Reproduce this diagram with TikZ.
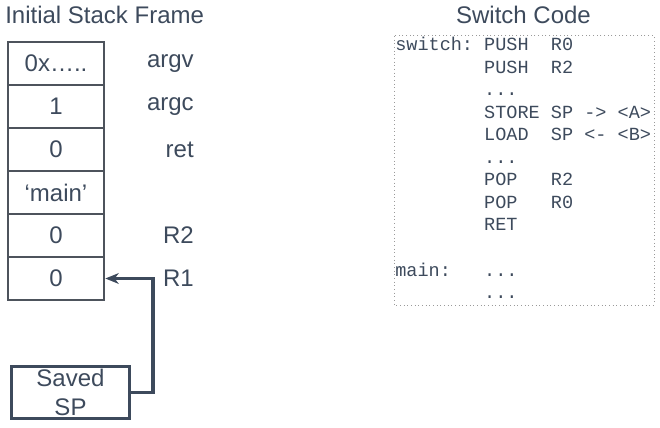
\documentclass[tikz,border=0pt]{standalone}
\usepackage{fontspec}
\setmainfont{Liberation Sans}
\setmonofont{Liberation Mono}
\usetikzlibrary{positioning,arrows.meta}

\definecolor{slate}{HTML}{3D4A5C}
\definecolor{cellline}{HTML}{4D535C}
\definecolor{dotgray}{HTML}{9A9A9A}

\tikzset{
  cell/.style={draw=cellline, line width=0.8pt, minimum width=72pt,
    minimum height=32.25pt, inner sep=0pt, outer sep=0pt, text=slate,
    font=\fontsize{18}{21}\selectfont},
  lbl/.style={anchor=east, inner sep=0pt, text=slate,
    font=\fontsize{18}{21}\selectfont},
  ttl/.style={inner sep=0pt, text=slate, font=\fontsize{18}{21}\selectfont},
  spbox/.style={draw=slate, line width=2.4pt, minimum width=88.5pt,
    minimum height=39pt, inner sep=0pt, align=center, text=slate,
    font=\fontsize{18}{21.5}\selectfont},
  ptr/.style={draw=slate, line width=2.4pt, shorten >=1pt,
    -{Stealth[length=10pt,width=8pt,inset=3pt]}},
  codetxt/.style={anchor=north west, inner sep=0pt, align=left, text=slate,
    font=\ttfamily\fontsize{13.9}{16.9}\selectfont},
  codeframe/.style={draw=dotgray, dotted, line width=0.75pt}
}

\begin{document}
\begin{tikzpicture}[x=0.75pt, y=-0.75pt]
  \useasboundingbox (0,0) rectangle (660,428);

  \node [ttl, anchor=west] (ttlstack) at (5,15) {Initial Stack Frame};
  \node [ttl] (ttlcode) at (523.5,15) {Switch Code};

  % stack cells, top to bottom
  \node [cell, anchor=north west] (argv) at (8,42) {0x…..};
  \node [cell, below=0pt of argv] (argc) {1};
  \node [cell, below=0pt of argc] (ret) {0};
  \node [cell, below=0pt of ret] (mn) {‘main’};
  \node [cell, below=0pt of mn] (r2) {0};
  \node [cell, below=0pt of r2] (r1) {0};

  \node [lbl] (largv) at ([xshift=67.5pt]argv.east) {argv};
  \node [lbl] (largc) at ([xshift=67.5pt]argc.east) {argc};
  \node [lbl] (lret) at ([xshift=67.5pt]ret.east) {ret};
  \node [lbl] (lr2) at ([xshift=67.5pt]r2.east) {R2};
  \node [lbl] (lr1) at ([xshift=67.5pt]r1.east) {R1};

  \node [spbox] (sp) at (70.5,392.5) {Saved\\SP};
  \coordinate (bend) at ([xshift=36.75pt]r1.east);
  \draw [ptr] (sp.east) -| (bend) -- (r1.east);

  % switch code listing
  \draw [codeframe] (394,36) rectangle (654,305);
  \node [codetxt] (code) at (395,37) {%
    switch:~PUSH~~R0\\
    ~~~~~~~~PUSH~~R2\\
    ~~~~~~~~...\\
    ~~~~~~~~STORE~SP~->~<A>\\
    ~~~~~~~~LOAD~~SP~<-~<B>\\
    ~~~~~~~~...\\
    ~~~~~~~~POP~~~R2\\
    ~~~~~~~~POP~~~R0\\
    ~~~~~~~~RET\\
    \mbox{}\\
    main:~~~...\\
    ~~~~~~~~...};
\end{tikzpicture}
\end{document}
